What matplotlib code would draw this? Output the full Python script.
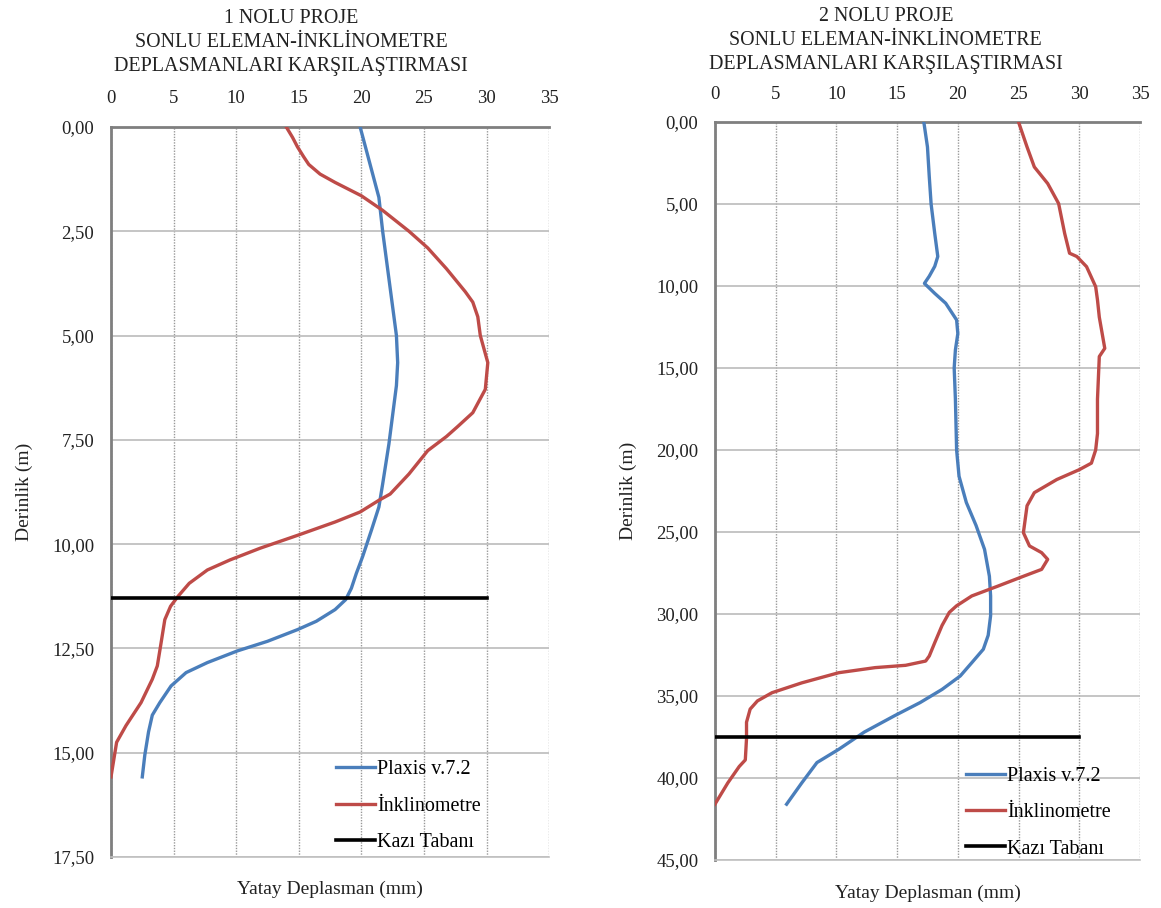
import matplotlib
matplotlib.use("Agg")
import matplotlib.pyplot as plt
from matplotlib.ticker import FuncFormatter

plt.rcParams['font.family'] = ['Liberation Serif', 'DejaVu Serif']

# 1 nolu proje
p1_plaxis_x = [19.9, 21.4, 21.7, 22.8, 22.9, 22.8, 22.2, 21.7, 21.4, 20.8, 20.1, 19.6, 19.2,
               18.75, 17.9, 16.4, 14.9, 12.5, 10.1, 7.7, 6.0, 4.8, 3.9, 3.3, 3.0, 2.7, 2.5]
p1_plaxis_y = [0.0, 1.69, 2.5, 5.0, 5.65, 6.2, 7.6, 8.56, 9.11, 9.67, 10.3, 10.7, 11.06,
               11.33, 11.57, 11.85, 12.05, 12.33, 12.56, 12.84, 13.08, 13.4, 13.8, 14.1, 14.5, 15.06, 15.58]
p1_inkl_x = [14.0, 14.5, 14.9, 15.4, 15.8, 16.7, 17.9, 20.0, 21.7, 23.8, 25.3, 26.8, 28.3, 28.9,
             29.3, 29.5, 30.1, 29.9, 28.9, 27.7, 26.8, 25.3, 23.8, 22.3, 21.4, 19.9, 17.9, 14.9,
             11.9, 9.5, 7.7, 6.25, 5.36, 4.76, 4.3, 4.0, 3.7, 3.3, 2.4, 1.2, 0.45, 0.0]
p1_inkl_y = [0.0, 0.25, 0.48, 0.72, 0.9, 1.13, 1.33, 1.65, 2.0, 2.5, 2.9, 3.4, 3.95, 4.2,
             4.55, 5.0, 5.65, 6.29, 6.85, 7.18, 7.42, 7.76, 8.32, 8.8, 8.95, 9.23, 9.47, 9.79,
             10.1, 10.38, 10.62, 10.94, 11.25, 11.49, 11.81, 12.37, 12.92, 13.24, 13.8, 14.35,
             14.75, 15.58]
p1_kazi_x = [0, 30]
p1_kazi_y = [11.29, 11.29]

# 2 nolu proje
p2_plaxis_x = [17.2, 17.5, 17.65, 17.8, 18.1, 18.35, 18.1, 17.65, 17.25, 18.1, 19.0, 19.9, 20.0,
               19.8, 19.7, 19.8, 19.9, 20.1, 20.7, 21.5, 22.2, 22.6, 22.7, 22.7, 22.5, 22.1,
               21.15, 20.2, 18.7, 16.9, 14.8, 12.3, 10.2, 8.4, 7.15, 5.9]
p2_plaxis_y = [0.0, 1.52, 3.35, 5.0, 6.8, 8.2, 8.8, 9.4, 9.84, 10.45, 11.05, 12.07, 12.9,
               13.9, 15.0, 16.9, 20.0, 21.6, 23.2, 24.6, 26.06, 27.7, 28.9, 30.1, 31.3, 32.15,
               32.97, 33.78, 34.6, 35.4, 36.2, 37.2, 38.25, 39.06, 40.3, 41.6]
p2_inkl_x = [25.0, 25.7, 26.3, 27.4, 28.3, 28.8, 29.2, 29.8, 30.6, 31.35, 31.5, 31.65, 32.1,
             31.65, 31.5, 31.5, 31.35, 31.0, 30.0, 28.15, 26.3, 25.7, 25.4, 25.9, 26.9, 27.4,
             26.9, 25.4, 23.3, 21.15, 19.9, 19.3, 18.7, 18.1, 17.65, 17.35, 15.7, 13.2, 10.2,
             7.15, 4.7, 3.5, 2.9, 2.6, 2.6, 2.5, 2.0, 1.06, 0.0]
p2_inkl_y = [0.0, 1.52, 2.74, 3.75, 4.97, 6.8, 8.0, 8.2, 8.82, 10.04, 10.85, 11.9, 13.8,
             14.3, 16.9, 19.0, 20.0, 20.8, 21.2, 21.8, 22.6, 23.4, 25.04, 25.85, 26.26, 26.67,
             27.28, 27.7, 28.3, 28.9, 29.5, 29.9, 30.7, 31.75, 32.56, 32.87, 33.13, 33.27, 33.58,
             34.2, 34.8, 35.3, 35.8, 36.6, 37.6, 38.9, 39.3, 40.3, 41.6]
p2_kazi_x = [0, 30]
p2_kazi_y = [37.48, 37.48]

titles = ['1 NOLU PROJE\nSONLU ELEMAN-İNKLİNOMETRE\nDEPLASMANLARI KARŞILAŞTIRMASI',
          '2 NOLU PROJE\nSONLU ELEMAN-İNKLİNOMETRE\nDEPLASMANLARI KARŞILAŞTIRMASI']
y_max = [17.5, 45.0]
y_step = [2.5, 5.0]

BLUE = '#4a7ebb'
RED = '#be4b48'

fig = plt.figure(figsize=(11.61, 9.08), dpi=100)
ax1 = fig.add_axes([0.0956, 0.0562, 0.3774, 0.8040])
ax2 = fig.add_axes([0.6158, 0.0529, 0.3661, 0.8127])

panels = [
    (ax1, p1_plaxis_x, p1_plaxis_y, p1_inkl_x, p1_inkl_y, p1_kazi_x, p1_kazi_y),
    (ax2, p2_plaxis_x, p2_plaxis_y, p2_inkl_x, p2_inkl_y, p2_kazi_x, p2_kazi_y),
]
title_pos = [(0.2506, 0.953), (0.763, 0.955)]
legend_anchor = [(0.514, 0.1325), (0.591, 0.126)]

comma = FuncFormatter(lambda v, pos: f'{v:.2f}'.replace('.', ','))

for i, (ax, px, py, ix, iy, kx, ky) in enumerate(panels):
    ax.plot(px, py, color=BLUE, lw=2.4, label='Plaxis v.7.2', solid_joinstyle='round', zorder=3)
    ax.plot(ix, iy, color=RED, lw=2.4, label='İnklinometre', solid_joinstyle='round', zorder=3)
    ax.plot(kx, ky, color='black', lw=2.6, label='Kazı Tabanı', zorder=4)

    ax.set_xlim(0, 35)
    ax.set_ylim(y_max[i], 0)
    ax.set_xticks(range(0, 36, 5))
    n = int(round(y_max[i] / y_step[i]))
    ax.set_yticks([k * y_step[i] for k in range(n + 1)])
    ax.yaxis.set_major_formatter(comma)
    ax.xaxis.tick_top()
    ax.tick_params(axis='both', length=0, labelsize=13.5, colors='#222222')
    ax.tick_params(axis='x', pad=14)
    ax.tick_params(axis='y', pad=12)

    ax.xaxis.grid(True, color='#999999', linestyle=(0, (1, 1)), lw=1.0)
    ax.yaxis.grid(True, color='#bbbbbb', linestyle='-', lw=1.2)
    ax.set_axisbelow(True)

    ax.spines['right'].set_visible(False)
    ax.spines['left'].set_color('#7f7f7f')
    ax.spines['left'].set_linewidth(2)
    ax.spines['top'].set_color('#7f7f7f')
    ax.spines['top'].set_linewidth(2)
    ax.spines['bottom'].set_color('#c0c0c0')
    ax.spines['bottom'].set_linewidth(1.2)

    ax.set_ylabel('Derinlik (m)', fontsize=14, color='#222222', labelpad=14)
    ax.text(0.5, -0.045, 'Yatay Deplasman (mm)', transform=ax.transAxes,
            ha='center', va='center', fontsize=14, color='#222222')
    fig.text(title_pos[i][0], title_pos[i][1], titles[i], ha='center', va='center',
             fontsize=14.4, color='#222222', linespacing=1.35)

    ax.legend(loc='upper left', bbox_to_anchor=legend_anchor[i], frameon=False,
              borderpad=0, borderaxespad=0, fontsize=14.5, handlelength=1.95,
              handletextpad=0.1, labelspacing=0.85)

fig.savefig('out.png', dpi=100)
